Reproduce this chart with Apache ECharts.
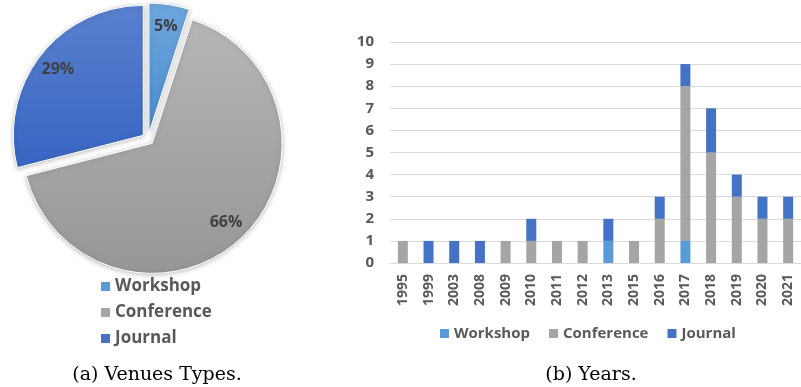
<!DOCTYPE html>
<html>
<head>
<meta charset="utf-8">
<script src="https://cdn.jsdelivr.net/npm/echarts@6/dist/echarts.min.js"></script>
<style>
  html, body { margin: 0; padding: 0; background: #fff; }
  #chart { width: 801px; height: 387px; }
</style>
</head>
<body>
<div id="chart"></div>
<script>
// pie (a)
const venueNames = ['Workshop', 'Conference', 'Journal'];
const venueShares = [5, 66, 29];

// bars (b)
const years = ['1995', '1999', '2003', '2008', '2009', '2010', '2011', '2012',
  '2013', '2015', '2016', '2017', '2018', '2019', '2020', '2021'];
const workshop = [0, 0, 0, 0, 0, 0, 0, 0, 1, 0, 0, 1, 0, 0, 0, 0];
const conference = [1, 0, 0, 0, 1, 1, 1, 1, 0, 1, 2, 7, 5, 3, 2, 2];
const journal = [0, 1, 1, 1, 0, 1, 0, 0, 1, 0, 1, 1, 2, 1, 1, 1];
const yTicks = [0, 10, 1]; // min, max, step

const flat = { Workshop: '#5b9bd5', Conference: '#a5a5a5', Journal: '#4472c4' };
const grad = {
  Workshop: ['#6ea7de', '#4b8ccd'],
  Conference: ['#b6b6b6', '#969696'],
  Journal: ['#5a81cf', '#3865c2'],
};
const font = '"Open Sans", "Noto Sans", sans-serif';

const chart = echarts.init(document.getElementById('chart'));

const pieCenter = [148, 139];
const pieData = venueNames.map((n, i) => ({
  name: n,
  value: venueShares[i],
  selected: true,
  itemStyle: {
    color: new echarts.graphic.LinearGradient(0, 0, 0, 1, [
      { offset: 0, color: grad[n][0] },
      { offset: 1, color: grad[n][1] },
    ]),
  },
}));

const barSeries = [
  ['Workshop', workshop],
  ['Conference', conference],
  ['Journal', journal],
].map(([name, data]) => ({
  name: name,
  type: 'bar',
  stack: 'total',
  barWidth: 10,
  data: data,
  itemStyle: { color: flat[name] },
}));

chart.setOption({
  animation: false,
  title: [
    {
      text: '(a) Venues Types.',
      left: 152, top: 361, textAlign: 'center',
      textStyle: { fontFamily: '"DejaVu Serif", serif', fontSize: 19, fontWeight: 'normal', color: '#000' },
    },
    {
      text: '(b) Years.',
      left: 586, top: 361, textAlign: 'center',
      textStyle: { fontFamily: '"DejaVu Serif", serif', fontSize: 19, fontWeight: 'normal', color: '#000' },
    },
  ],
  legend: [
    {
      data: venueNames,
      orient: 'vertical',
      left: 96, top: 272,
      itemWidth: 9, itemHeight: 9, itemGap: 7,
      icon: 'rect',
      textStyle: { fontFamily: font, fontSize: 17, fontWeight: 'bold', color: '#595959', lineHeight: 19 },
    },
    {
      data: venueNames,
      orient: 'horizontal',
      left: 435, top: 321,
      itemWidth: 9, itemHeight: 9, itemGap: 19,
      icon: 'rect',
      textStyle: { fontFamily: font, fontSize: 15, fontWeight: 'bold', color: '#595959' },
    },
  ],
  grid: { left: 390, top: 42, width: 418, height: 221 },
  xAxis: {
    type: 'category',
    data: years,
    axisTick: { show: false },
    axisLine: { lineStyle: { color: '#d9d9d9' } },
    axisLabel: { rotate: 90, margin: 11, fontFamily: font, fontSize: 14, fontWeight: 'bold', color: '#595959' },
  },
  yAxis: {
    type: 'value',
    min: yTicks[0], max: yTicks[1], interval: yTicks[2],
    axisLine: { show: false },
    axisTick: { show: false },
    splitLine: { lineStyle: { color: '#d9d9d9' } },
    axisLabel: { margin: 16, fontFamily: font, fontSize: 15, fontWeight: 'bold', color: '#595959' },
  },
  series: [
    {
      type: 'pie',
      center: pieCenter,
      radius: [0, 130],
      startAngle: 90,
      selectedMode: 'multiple',
      selectedOffset: 6,
      data: pieData,
      label: { show: false },
      labelLine: { show: false },
      itemStyle: { borderColor: '#fff', borderWidth: 1, shadowBlur: 5, shadowColor: 'rgba(0,0,0,0.25)', shadowOffsetY: 1 },
      emphasis: { disabled: true },
      silent: true,
    },
    {
      // label ring: puts the percent text at ~0.8 of the radius
      type: 'pie',
      center: pieCenter,
      radius: [80, 130],
      startAngle: 90,
      selectedMode: 'multiple',
      selectedOffset: 6,
      data: venueNames.map((n, i) => ({ name: n, value: venueShares[i], selected: true })),
      itemStyle: { color: 'rgba(0,0,0,0)' },
      label: {
        show: true, position: 'inside', formatter: '{d}%',
        fontFamily: font, fontSize: 16, fontWeight: 'bold', color: '#404040',
      },
      labelLine: { show: false },
      emphasis: { disabled: true },
      silent: true,
    },
    ...barSeries,
  ],
});
</script>
</body>
</html>
